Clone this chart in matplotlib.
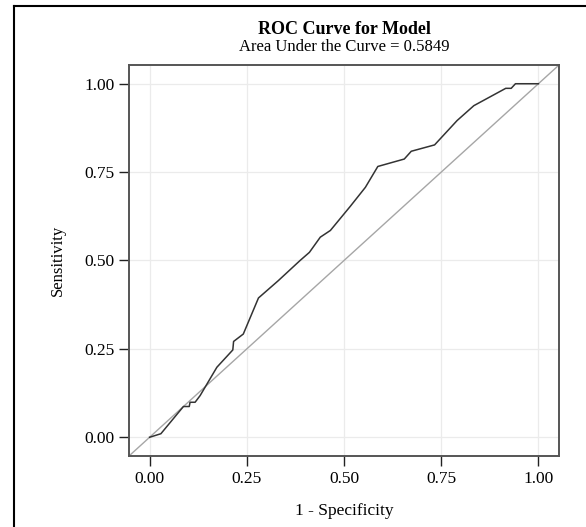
import matplotlib
matplotlib.use("Agg")
import matplotlib.pyplot as plt
from matplotlib.lines import Line2D

fpr = [0.0, 0.029, 0.087, 0.102, 0.104, 0.117, 0.130, 0.173, 0.214, 0.216, 0.241,
       0.280, 0.331, 0.387, 0.411, 0.439, 0.465, 0.516, 0.555, 0.587, 0.655, 0.673,
       0.733, 0.791, 0.834, 0.916, 0.930, 0.941, 1.0]
tpr = [0.0, 0.010, 0.087, 0.087, 0.099, 0.099, 0.118, 0.198, 0.247, 0.271, 0.292,
       0.394, 0.443, 0.500, 0.523, 0.566, 0.585, 0.653, 0.707, 0.766, 0.787, 0.809,
       0.827, 0.896, 0.938, 0.987, 0.987, 1.0, 1.0]
ticks = [0.0, 0.25, 0.5, 0.75, 1.0]
tick_labels = ["0.00", "0.25", "0.50", "0.75", "1.00"]

plt.rcParams['font.family'] = ['Liberation Serif', 'DejaVu Serif']

fig = plt.figure(figsize=(5.86, 5.27), dpi=100)
ax = fig.add_axes([129/586, 1-456/527, (559-129)/586, (456-65)/527])

lo, hi = -0.053, 1.053
ax.set_xlim(lo, hi)
ax.set_ylim(lo, hi)
ax.plot([lo, hi], [lo, hi], color='#a6a6a6', lw=1.0, zorder=2)
ax.plot(fpr, tpr, color='#333333', lw=1.1, zorder=3)

ax.set_xticks(ticks)
ax.set_xticklabels(tick_labels)
ax.set_yticks(ticks)
ax.set_yticklabels(tick_labels)
ax.grid(True, color='#ebebeb', lw=0.9)
ax.set_axisbelow(True)
ax.tick_params(direction='out', length=7.5, width=1.0, color='#222222',
               labelsize=12.5, pad=3)
for s in ax.spines.values():
    s.set_color('#555555')
    s.set_linewidth(1.4)

ax.set_xlabel("1 - Specificity", fontsize=12.5, labelpad=12)
ax.set_ylabel("Sensitivity", fontsize=12, labelpad=13)

fig.text(0.5 * (129 + 559) / 586, 1 - 29/527, "ROC Curve for Model", ha='center',
         va='center', fontsize=13, fontweight='bold')
fig.text(0.5 * (129 + 559) / 586, 1 - 47/527, "Area Under the Curve = 0.5849",
         ha='center', va='center', fontsize=12)

# outer frame
fig.add_artist(Line2D([13.5/586, 13.5/586], [0, 1 - 6/527], transform=fig.transFigure,
                      color='black', lw=1.5))
fig.add_artist(Line2D([13.5/586, 1], [1 - 6/527, 1 - 6/527], transform=fig.transFigure,
                      color='black', lw=1.5))

fig.savefig("out.png", dpi=100)
